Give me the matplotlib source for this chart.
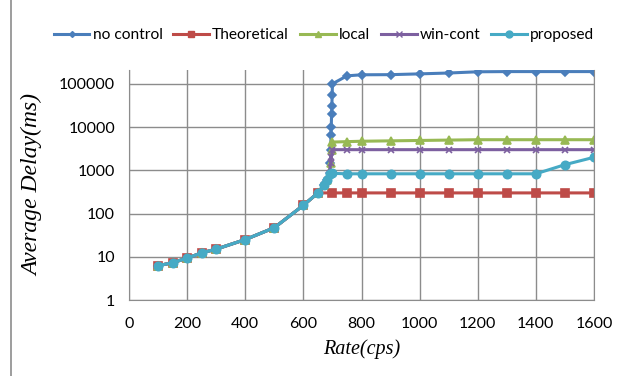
import matplotlib.pyplot as plt
from matplotlib.ticker import FixedLocator, FixedFormatter
from matplotlib.lines import Line2D

# common part of all curves below saturation
base_rate = [100, 150, 200, 250, 300, 400, 500, 600, 650]
base_delay = [6.2, 7.3, 9.3, 12.3, 15, 25, 47, 155, 300]

flat_rate = [700, 750, 800, 900, 1000, 1100, 1200, 1300, 1400, 1500, 1600]

nc_rate = base_rate + [670, 680, 690, 693, 694, 695, 696, 697, 698, 699, 700] + flat_rate[1:]
nc_delay = base_delay + [450, 600, 850, 1500, 3000, 6500, 10000, 20000, 30000, 55000, 100000,
                         153000, 162000, 163000, 170000, 178000, 190000, 192000, 192000, 192000, 192000]

th_rate = base_rate + flat_rate
th_delay = base_delay + [300] * 11

loc_rate = base_rate + [670, 680, 690, 695, 697] + flat_rate
loc_delay = base_delay + [450, 600, 850, 1500, 3000,
                          4500, 4600, 4700, 4800, 4900, 5000, 5100, 5100, 5100, 5100, 5100]

wc_rate = base_rate + [670, 680, 690, 694, 696] + flat_rate
wc_delay = base_delay + [450, 600, 850, 1500, 2000,
                         3000, 3000, 3000, 3000, 3000, 3000, 3000, 3000, 3000, 3000, 3000]

pr_rate = base_rate + [670, 680, 690] + flat_rate
pr_delay = base_delay + [450, 600, 800,
                         850, 830, 830, 830, 830, 830, 830, 830, 830, 1350, 2000]

series = [
    ('no control', nc_rate, nc_delay, '#4A7EBB', 'D', 4),
    ('Theoretical', th_rate, th_delay, '#BE4B48', 's', 6),
    ('local', loc_rate, loc_delay, '#98B954', '^', 6),
    ('win-cont', wc_rate, wc_delay, '#7D60A0', 'x', 5),
    ('proposed', pr_rate, pr_delay, '#46AAC5', 'o', 6),
]

plt.rcParams['font.family'] = ['Lato', 'DejaVu Sans']
fig = plt.figure(figsize=(6.26, 3.76), dpi=100)
ax = fig.add_axes([129/626, 1 - 300/376, (594-129)/626, (300-70)/376])

handles = []
for label, x, y, c, m, ms in series:
    ax.plot(x, y, color=c, lw=2.2, marker=m, ms=ms, mew=1.2, mfc=c, mec=c)
    handles.append(Line2D([], [], color=c, lw=2.2, marker=m, ms=ms - 1, mfc=c, mec=c, label=label))

ax.set_yscale('log')
ax.set_xlim(0, 1600)
ax.set_ylim(1, 10 ** 5.32)
ax.xaxis.set_major_locator(FixedLocator(range(0, 1601, 200)))
yt = [1, 10, 100, 1000, 10000, 100000]
ax.yaxis.set_major_locator(FixedLocator(yt))
ax.yaxis.set_major_formatter(FixedFormatter([str(v) for v in yt]))
ax.yaxis.set_minor_locator(FixedLocator([]))
ax.grid(True, color='#8c8c8c', lw=1)
ax.set_axisbelow(True)
for s in ['left', 'bottom', 'right']:
    ax.spines[s].set_color('#8c8c8c')
ax.spines['top'].set_visible(False)
ax.tick_params(length=0, labelsize=11.5, colors='black')
ax.tick_params(axis='y', pad=10)
ax.tick_params(axis='x', pad=12)

ax.set_ylabel('Average Delay(ms)', family='Liberation Serif', style='italic', fontsize=17)
ax.yaxis.set_label_coords((43 - 129) / 465, 0.5)
ax.set_xlabel('Rate(cps)', family='Liberation Serif', style='italic', fontsize=14.5, labelpad=6)

fig.legend(handles=handles, loc='center', bbox_to_anchor=(324/626, 1 - 35/376), ncol=5,
           frameon=False, fontsize=11.2, handlelength=2.3, handletextpad=0.2, columnspacing=0.7)

fig.add_artist(Line2D([11/626, 11/626], [0, 1], color='#8c8c8c', lw=1.2))

fig.savefig('out.png', dpi=100)
